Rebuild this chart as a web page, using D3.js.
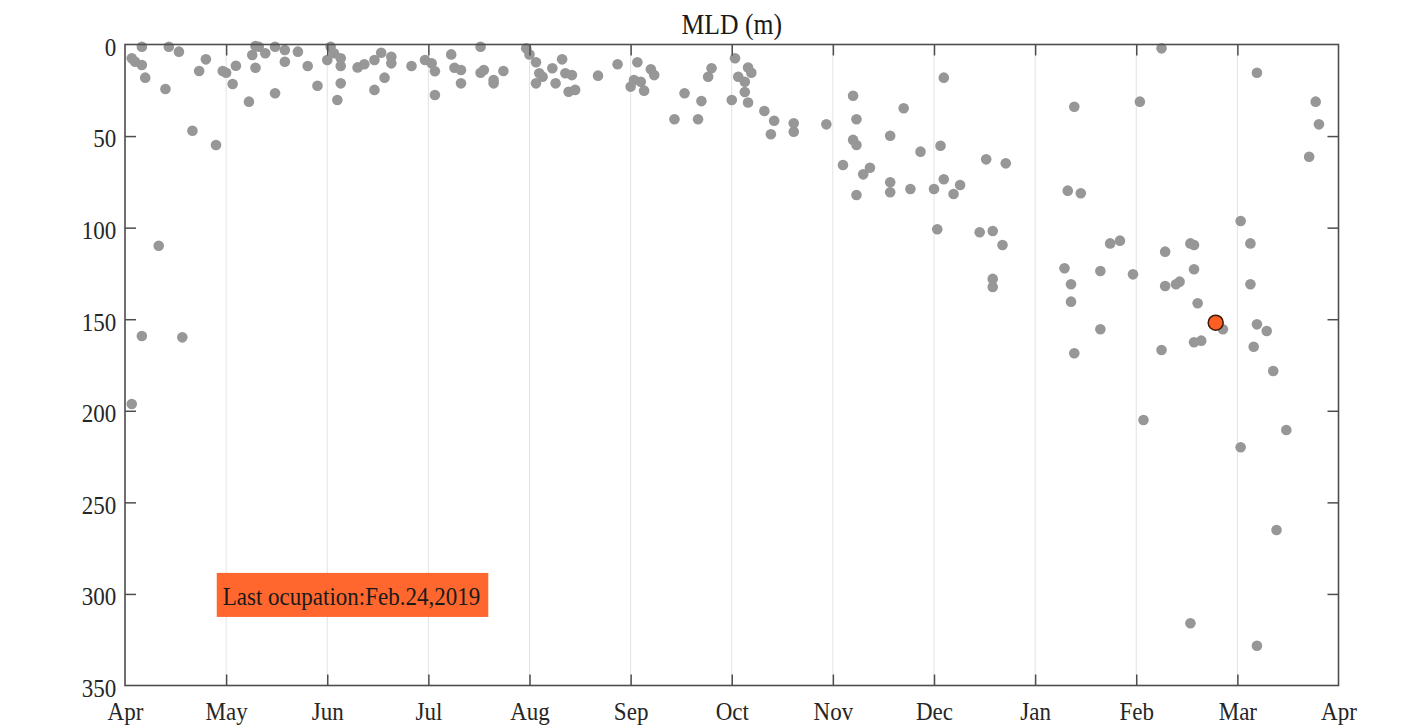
<!DOCTYPE html>
<html>
<head>
<meta charset="utf-8">
<script src="https://cdn.jsdelivr.net/npm/d3@7"></script>
<style>
  html, body { margin: 0; padding: 0; background: #fff; }
  svg { display: block; }
</style>
</head>
<body>
<svg id="chart"></svg>
<script>
const obsDates = [
  "2018-04-03","2018-04-04","2018-04-06","2018-04-06","2018-04-07","2018-04-13","2018-04-14","2018-04-17",
  "2018-04-21","2018-04-23","2018-04-25","2018-04-28","2018-04-30","2018-04-03","2018-04-06","2018-04-11","2018-04-18",
  "2018-05-01","2018-05-03","2018-05-04","2018-05-08","2018-05-09","2018-05-10","2018-05-10","2018-05-11",
  "2018-05-13","2018-05-16","2018-05-16","2018-05-19","2018-05-19","2018-05-23","2018-05-26","2018-05-29",
  "2018-06-01","2018-06-02","2018-06-03","2018-06-05","2018-06-05","2018-06-05","2018-06-04","2018-06-10",
  "2018-06-12","2018-06-15","2018-06-15","2018-06-17","2018-06-18","2018-06-20","2018-06-20","2018-06-26","2018-06-30",
  "2018-07-02","2018-07-03","2018-07-03","2018-07-08","2018-07-09","2018-07-11","2018-07-11","2018-07-17",
  "2018-07-17","2018-07-18","2018-07-21","2018-07-21","2018-07-24",
  "2018-08-01","2018-07-31","2018-08-03","2018-08-04","2018-08-03","2018-08-05","2018-08-08","2018-08-09",
  "2018-08-11","2018-08-12","2018-08-13","2018-08-14","2018-08-15","2018-08-22","2018-08-28",
  "2018-09-01","2018-09-02","2018-09-03","2018-09-04","2018-09-05","2018-09-07","2018-09-08","2018-09-14",
  "2018-09-17","2018-09-21","2018-09-22","2018-09-24","2018-09-25",
  "2018-10-01","2018-10-02","2018-10-03","2018-10-05","2018-10-05","2018-10-06","2018-10-06","2018-10-07",
  "2018-10-11","2018-10-13","2018-10-14","2018-10-20","2018-10-20","2018-10-30",
  "2018-11-04","2018-11-07","2018-11-07","2018-11-08","2018-11-08","2018-11-08","2018-11-10","2018-11-12",
  "2018-11-18","2018-11-18","2018-11-18","2018-11-22","2018-11-24","2018-11-27",
  "2018-12-01","2018-12-02","2018-12-03","2018-12-04","2018-12-04","2018-12-07","2018-12-09","2018-12-15",
  "2018-12-17","2018-12-19","2018-12-19","2018-12-19","2018-12-22","2018-12-23",
  "2019-01-10","2019-01-11","2019-01-12","2019-01-12","2019-01-13","2019-01-13","2019-01-15","2019-01-21",
  "2019-01-21","2019-01-24","2019-01-27","2019-01-31",
  "2019-02-02","2019-02-03","2019-02-08","2019-02-08","2019-02-09","2019-02-09","2019-02-12","2019-02-13",
  "2019-02-16","2019-02-16","2019-02-17","2019-02-17","2019-02-17","2019-02-18","2019-02-19","2019-02-25",
  "2019-03-02","2019-03-02","2019-03-05","2019-03-05","2019-03-06","2019-03-07","2019-03-07","2019-03-07",
  "2019-03-10","2019-03-12","2019-03-13","2019-03-16","2019-03-23","2019-03-25","2019-03-26"
];
const obsDepths = [
  7.5, 9.4, 11.2, 1.2, 18.1, 24.3, 1.2, 3.9,
  47.1, 14.5, 8.1, 54.9, 14.5, 196.3, 159.2, 109.9, 159.9,
  15.4, 21.6, 11.6, 31.2, 5.7, 12.7, 0.8, 1.2,
  4.8, 26.6, 1.2, 9.4, 3.0, 3.9, 11.7, 22.5,
  8.5, 1.2, 4.8, 7.5, 11.7, 21.2, 30.3, 12.5,
  10.8, 8.5, 24.8, 4.5, 18.1, 6.7, 10.3, 11.7, 8.5,
  10.3, 14.6, 27.6, 5.4, 12.7, 13.9, 21.2, 1.2,
  15.4, 13.9, 19.4, 21.2, 14.5,
  5.4, 2.1, 9.7, 15.7, 21.2, 17.6, 13.0, 21.2,
  8.1, 15.7, 25.8, 16.7, 24.8, 17.0, 10.8,
  23.0, 19.4, 9.7, 20.3, 25.2, 13.5, 16.7, 40.8,
  26.6, 40.8, 30.9, 17.6, 13.0,
  30.3, 7.5, 17.6, 25.9, 20.3, 31.7, 12.6, 15.4,
  36.3, 49.0, 41.6, 43.0, 47.6, 43.6,
  65.8, 28.0, 52.1, 40.8, 54.9, 82.2, 70.9, 67.3,
  49.8, 75.2, 80.7, 34.8, 78.9, 58.5,
  78.9, 100.9, 55.3, 18.1, 73.6, 81.6, 76.7, 102.5,
  62.7, 101.8, 128.0, 132.4, 109.5, 64.9,
  122.2, 79.8, 130.9, 140.4, 34.0, 168.6, 81.2, 123.7,
  155.5, 108.6, 107.1, 125.5,
  31.2, 205.0, 2.1, 166.8, 113.1, 131.9, 130.9, 129.5,
  108.6, 316.0, 109.5, 122.7, 162.6, 141.3, 161.7, 155.5,
  96.4, 219.9, 108.6, 130.9, 165.0, 15.4, 152.8, 328.3,
  156.4, 178.3, 265.1, 210.5, 61.3, 31.2, 43.6
];

// the highlighted last occupation
const lastDate = "2019-02-23";
const lastDepth = 151.9;
const lastLabel = "Last ocupation:Feb.24,2019";
const labelAnchorDate = "2018-04-30";
const labelAnchorDepth = 300;

const monthStarts = [
  "2018-04-01","2018-05-01","2018-06-01","2018-07-01","2018-08-01","2018-09-01","2018-10-01",
  "2018-11-01","2018-12-01","2019-01-01","2019-02-01","2019-03-01","2019-04-01"
];
const monthLabels = ["Apr","May","Jun","Jul","Aug","Sep","Oct","Nov","Dec","Jan","Feb","Mar","Apr"];
const depthTicks = [0, 50, 100, 150, 200, 250, 300, 350];
const titleText = "MLD (m)";

const WIDTH = 1424;
const HEIGHT = 728;
const margin = { left: 125, right: 85.5, top: 44.5, bottom: 42.5 };
const TICK_LEN = 11;
const FONT = "'Liberation Serif', 'Times New Roman', serif";
const SQUEEZE = 0.885;

const parse = d3.timeParse("%Y-%m-%d");
const points = obsDates.map((d, i) => ({ date: parse(d), depth: obsDepths[i] }));
const months = monthStarts.map(parse);

const svg = d3.select("#chart").attr("width", WIDTH).attr("height", HEIGHT);

const x0 = margin.left;
const x1 = WIDTH - margin.right;
const y0 = margin.top;
const y1 = HEIGHT - margin.bottom;

// months are spaced evenly on the axis, so a piecewise time scale
const x = d3.scaleTime()
    .domain(months)
    .range(months.map((_, i) => x0 + (x1 - x0) * i / (months.length - 1)));

const y = d3.scaleLinear().domain([0, 350]).range([y0, y1]);

// vertical grid
svg.append("g")
    .selectAll("line")
    .data(months.slice(1, -1))
    .join("line")
    .attr("x1", (d) => x(d))
    .attr("x2", (d) => x(d))
    .attr("y1", y0)
    .attr("y2", y1)
    .attr("stroke", "#e3e3e3")
    .attr("stroke-width", 1);

// gray points
svg.append("g")
    .selectAll("circle")
    .data(points)
    .join("circle")
    .attr("cx", (d) => x(d.date))
    .attr("cy", (d) => y(d.depth))
    .attr("r", 5.3)
    .attr("fill", "#979797");

// annotation box
const label = svg.append("g");
const labelText = label.append("text")
    .attr("transform", `translate(${x(parse(labelAnchorDate))},${y(labelAnchorDepth)}) scale(${SQUEEZE},1)`)
    .attr("dy", "0.42em")
    .attr("font-family", FONT)
    .attr("font-size", 26)
    .attr("fill", "#1a1a1a")
    .text(lastLabel);
const bb = labelText.node().getBBox();
label.insert("rect", "text")
    .attr("x", x(parse(labelAnchorDate)) - 6)
    .attr("y", y(labelAnchorDepth) - 21)
    .attr("width", bb.width * SQUEEZE + 14)
    .attr("height", 44)
    .attr("fill", "#ff5d22")
    .attr("fill-opacity", 0.94);

// highlighted point
svg.append("circle")
    .attr("cx", x(parse(lastDate)))
    .attr("cy", y(lastDepth))
    .attr("r", 7.5)
    .attr("fill", "#ff5e22")
    .attr("stroke", "#3b1a08")
    .attr("stroke-width", 1.5);

// axes: ticks point inward on all four sides
const bottomAxis = svg.append("g")
    .attr("transform", `translate(0,${y1})`)
    .call(d3.axisBottom(x).tickValues(months).tickFormat((_, i) => monthLabels[i])
        .tickSizeInner(-TICK_LEN).tickSizeOuter(0).tickPadding(16));
const topAxis = svg.append("g")
    .attr("transform", `translate(0,${y0})`)
    .call(d3.axisTop(x).tickValues(months).tickFormat("").tickSizeInner(-TICK_LEN).tickSizeOuter(0));
const leftAxis = svg.append("g")
    .attr("transform", `translate(${x0},0)`)
    .call(d3.axisLeft(y).tickValues(depthTicks).tickSizeInner(-TICK_LEN).tickSizeOuter(0).tickPadding(10));
const rightAxis = svg.append("g")
    .attr("transform", `translate(${x1},0)`)
    .call(d3.axisRight(y).tickValues(depthTicks).tickFormat("").tickSizeInner(-TICK_LEN).tickSizeOuter(0));

[bottomAxis, topAxis, leftAxis, rightAxis].forEach((g) => {
    g.select(".domain").remove();
    g.selectAll(".tick line").attr("stroke", "#4d4d4d").attr("stroke-width", 1.5);
    g.selectAll(".tick text")
        .attr("font-family", FONT)
        .attr("font-size", 26)
        .attr("fill", "#262626")
        .attr("transform", `scale(${SQUEEZE},1)`);
});
// hide ticks that sit on the frame corners
[bottomAxis, topAxis].forEach((g) => g.selectAll(".tick line").filter((_, i) => i === 0 || i === months.length - 1).remove());
[leftAxis, rightAxis].forEach((g) => g.selectAll(".tick line").filter((_, i) => i === 0 || i === depthTicks.length - 1).remove());
leftAxis.selectAll(".tick text").attr("dy", "0.42em");

// frame
svg.append("rect")
    .attr("x", x0)
    .attr("y", y0)
    .attr("width", x1 - x0)
    .attr("height", y1 - y0)
    .attr("fill", "none")
    .attr("stroke", "#4d4d4d")
    .attr("stroke-width", 1.6);

// title
svg.append("text")
    .attr("transform", `translate(${(x0 + x1) / 2},34) scale(${SQUEEZE},1)`)
    .attr("text-anchor", "middle")
    .attr("font-family", FONT)
    .attr("font-size", 29)
    .attr("fill", "#1a1a1a")
    .text(titleText);
</script>
</body>
</html>
